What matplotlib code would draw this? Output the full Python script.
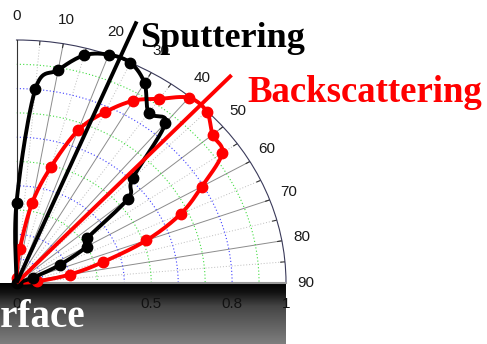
import numpy as np
import matplotlib
matplotlib.use("Agg")
import matplotlib.pyplot as plt
from matplotlib.colors import LinearSegmentedColormap

# Angular distributions: emission angle from the surface normal (deg) and normalised yield
sputter_angle = [0, 5, 10, 15, 20, 25, 30, 35, 40, 45, 50, 55, 60, 65, 70]
sputter_yield = [0.33, 0.80, 0.89, 0.97, 1.00, 1.00, 0.95, 0.855, 0.86, 0.61,
                 0.54, 0.32, 0.30, 0.18, 0.065]

backscatter_angle = [0, 5, 10, 15, 20, 25, 30, 35, 40, 45, 50, 55, 60, 65, 70,
                     75, 80, 85]
backscatter_yield = [0.02, 0.14, 0.334, 0.495, 0.669, 0.775, 0.866, 0.925, 0.995,
                     0.998, 0.95, 0.932, 0.794, 0.672, 0.513, 0.331, 0.201, 0.076]

# Preferred emission directions (deg)
sputter_peak = 22.5
backscatter_peak = 43.0

theta_ticks = [0, 10, 20, 30, 40, 50, 60, 70, 80, 90]
r_ticks = [0, 0.5, 0.8, 1]
r_tick_labels = ["0", "0.5", "0.8", "1"]


def smooth_curve(angle_deg, values, n=24):
    """Catmull-Rom curve through the measured points, closed at the origin."""
    t = np.deg2rad(angle_deg)
    v = np.asarray(values, float)
    pts = np.column_stack([v * np.sin(t), v * np.cos(t)])
    pts = np.vstack([[0, 0], pts, [0, 0]])
    P = np.vstack([pts[0], pts, pts[-1]])
    segs = []
    s = np.linspace(0, 1, n, endpoint=False)[:, None]
    for i in range(1, len(P) - 2):
        p0, p1, p2, p3 = P[i - 1], P[i], P[i + 1], P[i + 2]
        segs.append(0.5 * (2 * p1 + (-p0 + p2) * s
                           + (2 * p0 - 5 * p1 + 4 * p2 - p3) * s ** 2
                           + (-p0 + 3 * p1 - 3 * p2 + p3) * s ** 3))
    segs.append(P[-2][None])
    xy = np.vstack(segs)
    return np.arctan2(xy[:, 0], xy[:, 1]), np.hypot(xy[:, 0], xy[:, 1])


W, H = 487, 344
fig = plt.figure(figsize=(W / 100, H / 100), dpi=100)
fig.patch.set_facecolor("white")

# Dark surface band under the plot
band = fig.add_axes([0, 0, 286 / W, 61 / H], zorder=0)
band_cmap = LinearSegmentedColormap.from_list(
    "band", [(0.0, "#000000"), (0.15, "#121212"), (0.38, "#454545"), (1.0, "#7e7e7e")])
band.imshow(np.linspace(0, 1, 200)[:, None], aspect="auto", cmap=band_cmap,
            extent=[0, 1, 0, 1])
band.axis("off")

ax = fig.add_axes([16.5 / W, 61 / H, 269.5 / W, 243 / H], projection="polar", zorder=1)
ax.set_theta_zero_location("N")
ax.set_theta_direction(-1)
ax.set_thetamin(0)
ax.set_thetamax(90)
ax.set_rlim(0, 1)
ax.set_aspect("auto")
ax.grid(False)
ax.set_xticks([])
ax.set_yticks([])
ax.patch.set_facecolor("white")

ax.spines["polar"].set_color("#3a3a5a")
ax.spines["polar"].set_linewidth(0.8)
ax.spines["start"].set_color("#333333")
ax.spines["start"].set_linewidth(0.8)
ax.spines["end"].set_color("#999999")
ax.spines["end"].set_linewidth(1.5)

# Radial grid lines
for a in range(10, 90, 10):
    ax.plot([np.deg2rad(a)] * 2, [0, 1], color="#8c8c8c", lw=0.7, zorder=1)
for a in range(5, 90, 10):
    ax.plot([np.deg2rad(a)] * 2, [0, 1], color="#bdbdbd", lw=0.7,
            ls=(0, (1, 2)), zorder=1)
# Tick marks on the rim
for a in range(5, 90, 5):
    ax.plot([np.deg2rad(a)] * 2, [0.984, 1.0], color="#333333", lw=0.8, zorder=2)

# Constant-radius circles
arc = np.linspace(0, np.pi / 2, 200)
for rv in [0.1, 0.2, 0.4, 0.6, 0.8]:
    ax.plot(arc, np.full_like(arc, rv), color="#3d3dff", lw=0.8, ls=(0, (1, 2)), zorder=1)
for rv in [0.3, 0.5, 0.7, 0.9]:
    ax.plot(arc, np.full_like(arc, rv), color="#3fdc3f", lw=0.8, ls=(0, (1, 2)), zorder=1)

# Backscattered and sputtered distributions
bt, br = smooth_curve(backscatter_angle, backscatter_yield)
ax.plot(bt, br, color="#ff0000", lw=2.8, zorder=3, clip_on=False)
ax.plot(np.deg2rad(backscatter_angle), backscatter_yield, "o", color="#ff0000",
        ms=7.5, zorder=3, clip_on=False)

st, sr = smooth_curve(sputter_angle, sputter_yield)
ax.plot(st, sr, color="black", lw=2.8, zorder=4, clip_on=False)
ax.plot(np.deg2rad(sputter_angle), sputter_yield, "o", color="black",
        ms=7.5, zorder=4, clip_on=False)
ax.plot([0], [0], "o", color="black", ms=7.5, zorder=4, clip_on=False)

# Preferred-direction indicators
ax.plot([np.deg2rad(backscatter_peak)] * 2, [0, 1.17], color="#ff0000", lw=2.8,
        zorder=5, clip_on=False, solid_capstyle="butt")
ax.plot([np.deg2rad(sputter_peak)] * 2, [0, 1.165], color="black", lw=2.8,
        zorder=6, clip_on=False, solid_capstyle="butt")

# Angle labels, set just outside the rim
for a in theta_ticks:
    t = np.deg2rad(a)
    ax.annotate(str(a), xy=(t, 1.0), xytext=(20 * np.sin(t), 24.5 * np.cos(t)),
                textcoords="offset pixels", ha="center", va="center", fontsize=11,
                family="Liberation Sans", color="#1a1a1a", annotation_clip=False)

# Radius labels along the surface
for rv, lbl in zip(r_ticks, r_tick_labels):
    ax.annotate(lbl, xy=(np.pi / 2, rv), xytext=(0, -21), textcoords="offset pixels",
                ha="center", va="center", fontsize=11, family="Liberation Sans",
                color="#111111", annotation_clip=False, zorder=7)

fig.text(140 / W, 1 - 47 / H, "Sputtering", fontsize=26, family="Liberation Serif",
         weight="bold", color="black", va="baseline", ha="left", zorder=10)
fig.text(247 / W, 1 - 102 / H, "Backscattering", fontsize=26.5, family="Liberation Serif",
         weight="bold", color="#ff0000", va="baseline", ha="left", zorder=10)
fig.text(86 / W, 1 - 327 / H, "Surface", fontsize=28, family="Liberation Serif",
         weight="bold", color="white", va="baseline", ha="right", zorder=10)

fig.savefig("out.png", dpi=100)
